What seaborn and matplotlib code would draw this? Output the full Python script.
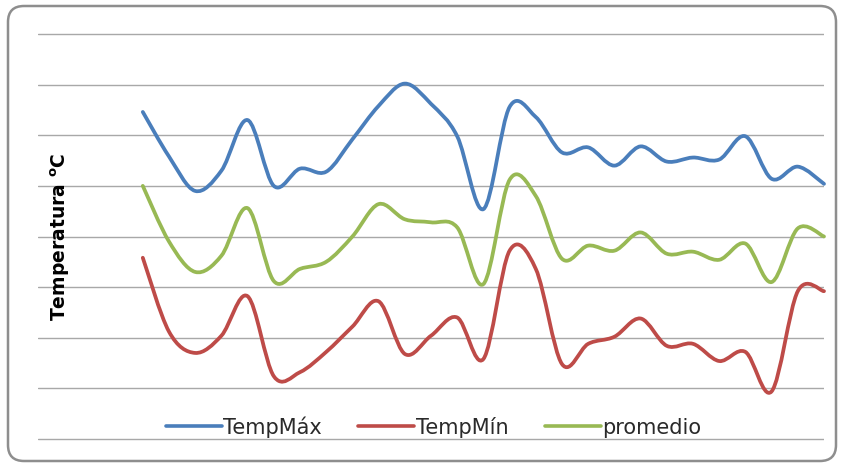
import matplotlib
matplotlib.use("Agg")
import numpy as np
import pandas as pd
import seaborn as sns
import matplotlib.pyplot as plt
from matplotlib.path import Path
from matplotlib.patches import PathPatch, FancyBboxPatch
from matplotlib.lines import Line2D
from matplotlib.transforms import IdentityTransform

sns.set_theme(style="white")
plt.rcParams["font.family"] = ["DejaVu Sans"]

# Daily temperatures (ºC)
dias = list(range(1, 28))
temp_max = [32.3, 27.9, 24.5, 26.5, 31.5, 25.0, 26.7, 26.4, 29.6, 32.9, 35.1, 33.1, 29.9, 22.7,
            32.8, 31.8, 28.3, 28.8, 27.0, 28.9, 27.4, 27.8, 27.6, 29.9, 25.7, 26.9, 25.2]
temp_min = [17.9, 10.6, 8.5, 10.2, 14.1, 6.2, 6.6, 8.6, 11.1, 13.6, 8.4, 10.2, 12.0, 7.9,
            18.6, 16.8, 7.4, 9.4, 10.1, 11.9, 9.2, 9.4, 7.7, 8.6, 4.7, 14.6, 14.6]
promedio = [25.0, 19.5, 16.5, 18.1, 22.8, 15.6, 16.8, 17.5, 20.0, 23.2, 21.7, 21.4, 20.9, 15.3,
            25.6, 24.0, 17.8, 19.1, 18.6, 20.4, 18.3, 18.5, 17.7, 19.3, 15.5, 20.8, 20.0]
series = ["TempMáx", "TempMín", "promedio"]
colores = {"TempMáx": "#4A7EBB", "TempMín": "#BE4B48", "promedio": "#98B954"}

df = pd.DataFrame({"dia": dias, "TempMáx": temp_max, "TempMín": temp_min, "promedio": promedio})
df = df.melt(id_vars="dia", var_name="serie", value_name="temp")

W, H = 842, 464
fig = plt.figure(figsize=(W / 100, H / 100), dpi=100)
fig.patch.set_facecolor("white")

# rounded chart frame
frame = FancyBboxPatch((8, H - 462), 828, 455, boxstyle="round,pad=0,rounding_size=16",
                       transform=IdentityTransform(), facecolor="none",
                       edgecolor="#8E8E8E", linewidth=1.8, zorder=5)
fig.patches.append(frame)

ax = fig.add_axes([38 / W, 19 / H, 786 / W, 415 / H])
ax.set_facecolor("none")

sns.lineplot(data=df, x="dia", y="temp", hue="serie", hue_order=series,
             palette=colores, linewidth=2.6, ax=ax, legend=False)


def smooth_path(x, y):
    """Cubic Bezier path through the points (Catmull-Rom style smoothing)."""
    x = np.asarray(x, float)
    y = np.asarray(y, float)
    n = len(x)
    verts = [(x[0], y[0])]
    codes = [Path.MOVETO]
    for i in range(n - 1):
        i0 = max(i - 1, 0)
        i3 = min(i + 2, n - 1)
        c1 = (x[i] + (x[i + 1] - x[i0]) / 6, y[i] + (y[i + 1] - y[i0]) / 6)
        c2 = (x[i + 1] - (x[i3] - x[i]) / 6, y[i + 1] - (y[i3] - y[i]) / 6)
        verts += [c1, c2, (x[i + 1], y[i + 1])]
        codes += [Path.CURVE4] * 3
    return Path(verts, codes)


# replace the straight segments by smoothed curves through the same points
for line in list(ax.lines):
    xs, ys = line.get_xdata(), line.get_ydata()
    patch = PathPatch(smooth_path(xs, ys), facecolor="none", edgecolor=line.get_color(),
                      linewidth=2.7, capstyle="round", joinstyle="round", zorder=3)
    patch.set_clip_on(False)
    ax.add_patch(patch)
    line.set_visible(False)

ax.set_xlim(-3, 27)
ax.set_ylim(-0.494, 40.494)
ax.set_yticks(np.arange(0, 41, 5))
ax.set_xticks([])
ax.set_yticklabels([])
ax.tick_params(length=0)
ax.yaxis.grid(True, color="#A8A8A8", linewidth=1.0)
ax.set_axisbelow(True)
ax.set_xlabel("")
ax.set_ylabel("")
sns.despine(ax=ax, left=True, bottom=True, top=True, right=True)

handles = [Line2D([0], [0], color=colores[s], linewidth=2.6) for s in series]
ax.legend(handles, series, loc="center", bbox_to_anchor=(0.503, 0.042), ncol=3,
          frameon=False, fontsize=15, handlelength=2.7, handletextpad=0.05,
          columnspacing=1.75, labelcolor="#2A2A2A")

fig.text(60 / W, 1 - 237 / H, r"Temperatura $^{\mathbf{o}}$C", rotation=90,
         fontsize=13.5, fontweight="bold", ha="center", va="center", color="black")

fig.savefig("out.png", dpi=100, facecolor="white")
